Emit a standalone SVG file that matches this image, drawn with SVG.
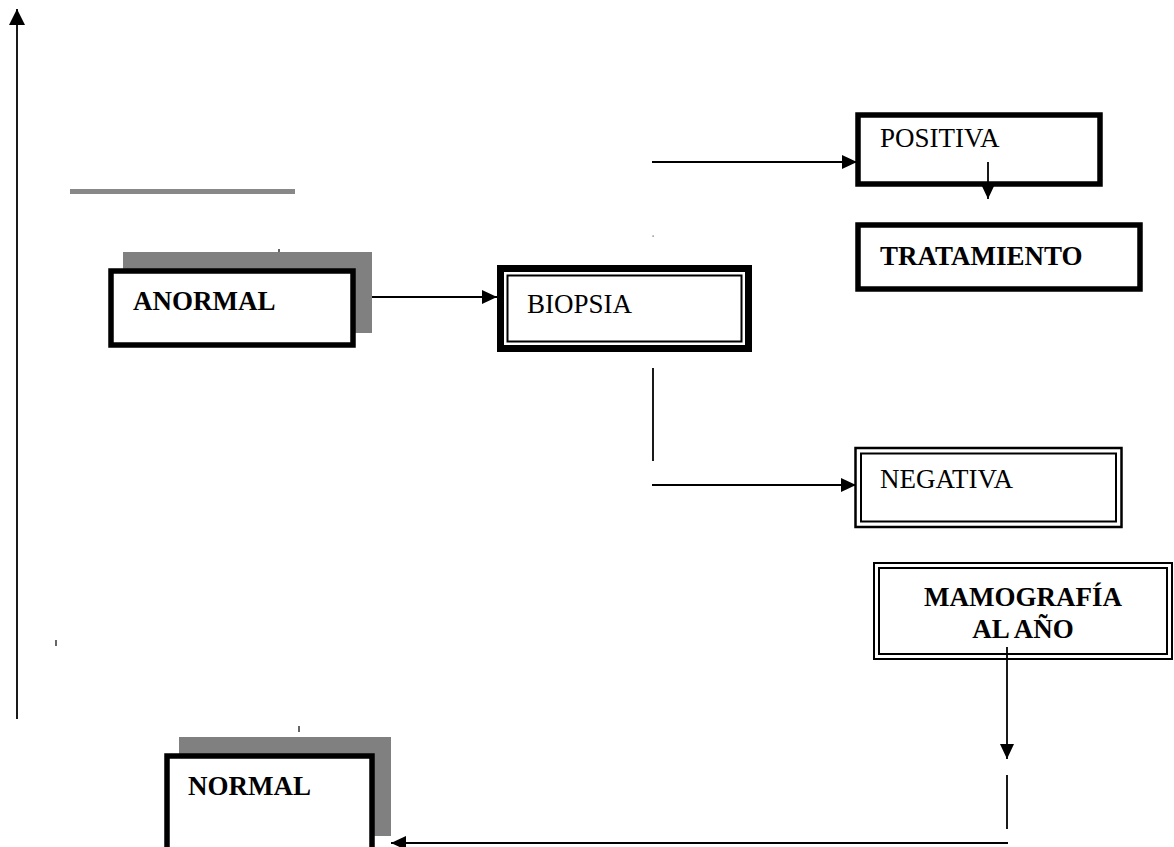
<svg xmlns="http://www.w3.org/2000/svg" width="1174" height="847" viewBox="0 0 1174 847">
<style>
.t{font-family:"Liberation Serif","Times New Roman",serif;font-size:27px;fill:#000}
.b{font-weight:bold}
.thick{fill:#fff;stroke:#000;stroke-width:5.5}
.shadow{fill:#808080}
.thin{fill:none;stroke:#000;stroke-width:2}
.c{stroke:#000;stroke-width:1.8;fill:none}
.tick{stroke:#000;stroke-width:1.2}
</style>
<defs>
<marker id="ah" markerUnits="userSpaceOnUse" markerWidth="15" markerHeight="14" refX="15" refY="7" orient="auto">
<path d="M0,0 L15,7 L0,14 z" fill="#000"/>
</marker>
<marker id="ahb" markerUnits="userSpaceOnUse" markerWidth="16" markerHeight="16" refX="16" refY="8" orient="auto">
<path d="M0,0 L16,8 L0,16 z" fill="#000"/>
</marker>
</defs>
<rect width="1174" height="847" fill="#fff"/>

<g id="decor">
<line x1="70" y1="191.5" x2="295" y2="191.5" stroke="#888" stroke-width="5"/>
<line class="tick" x1="279" y1="249" x2="279" y2="255"/>
<rect x="652.5" y="235.5" width="1.2" height="1.2" fill="#555"/>
<line class="tick" x1="56" y1="640" x2="56" y2="646"/>
<line class="tick" x1="299" y1="726" x2="299" y2="732"/>
</g>

<g id="anormal">
<rect class="shadow" x="123" y="252" width="249" height="81"/>
<rect class="thick" x="111" y="271" width="242" height="74"/>
<text class="t b" x="133" y="310">ANORMAL</text>
</g>

<g id="biopsia">
<rect x="500.5" y="268.5" width="248" height="80" fill="#fff" stroke="#000" stroke-width="7"/>
<rect x="507.5" y="275.5" width="234" height="66" class="thin" stroke-width="1.5"/>
<text class="t" x="527" y="313">BIOPSIA</text>
</g>

<g id="positiva">
<rect class="thick" x="858" y="115" width="242" height="69"/>
<text class="t" x="880" y="147">POSITIVA</text>
</g>

<g id="tratamiento">
<rect class="thick" x="858" y="225" width="282" height="64"/>
<text class="t b" x="880" y="265">TRATAMIENTO</text>
</g>

<g id="negativa">
<rect x="855.5" y="448" width="266" height="79" fill="#fff" stroke="#000" stroke-width="2.5"/>
<rect x="861" y="453.5" width="255" height="68" class="thin"/>
<text class="t" x="880" y="488">NEGATIVA</text>
</g>

<g id="mamografia">
<rect x="874" y="563" width="298" height="96" fill="#fff" stroke="#000" stroke-width="2"/>
<rect x="879" y="568" width="288" height="86" class="thin"/>
<text class="t b" x="1023" y="606" text-anchor="middle">MAMOGRAFÍA</text>
<text class="t b" x="1023" y="638" text-anchor="middle">AL AÑO</text>
</g>

<g id="normal">
<rect class="shadow" x="179" y="737" width="212" height="99"/>
<rect class="thick" x="167" y="756" width="205" height="110"/>
<text class="t b" x="188" y="795">NORMAL</text>
</g>

<g id="connectors">
<line class="c" x1="17" y1="719" x2="17" y2="9" marker-end="url(#ahb)"/>
<line class="c" x1="372" y1="297" x2="497" y2="297" marker-end="url(#ah)"/>
<line class="c" x1="652" y1="162" x2="857" y2="162" marker-end="url(#ah)"/>
<line class="c" x1="988" y1="162" x2="988" y2="199" marker-end="url(#ah)"/>
<line class="c" x1="653" y1="368" x2="653" y2="461"/>
<line class="c" x1="652" y1="485" x2="856" y2="485" marker-end="url(#ah)"/>
<line class="c" x1="1007" y1="647" x2="1007" y2="759" marker-end="url(#ah)"/>
<line class="c" x1="1007" y1="775" x2="1007" y2="829"/>
<line class="c" x1="1008" y1="843" x2="391" y2="843" marker-end="url(#ah)"/>
</g>
</svg>
